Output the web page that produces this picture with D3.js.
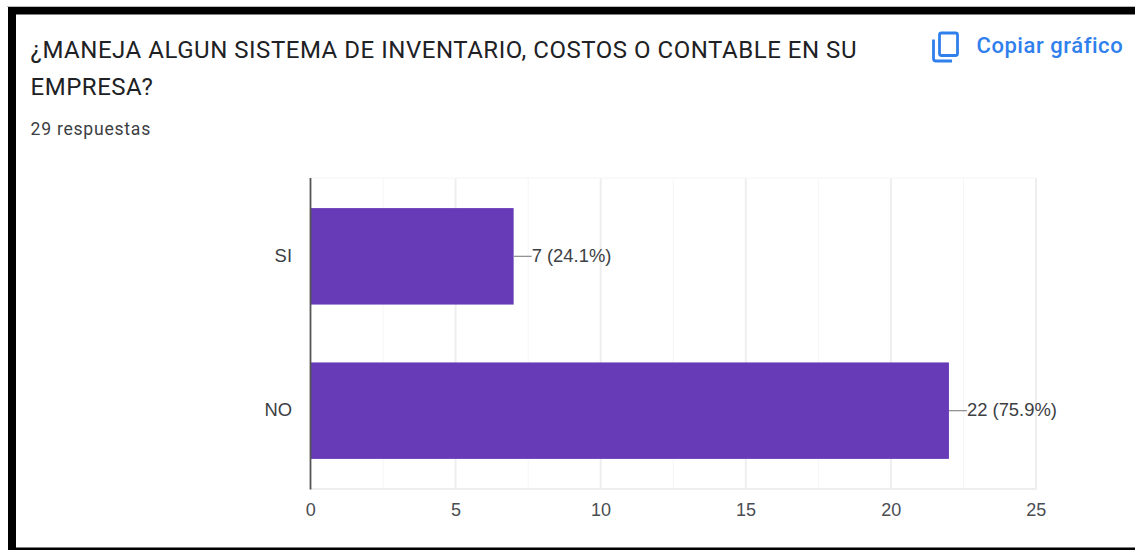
<!DOCTYPE html>
<html>
<head>
<meta charset="utf-8">
<script src="https://cdn.jsdelivr.net/npm/d3@7"></script>
<style>
html, body { margin: 0; padding: 0; background: #fff; overflow: hidden; }
text { font-family: Roboto, sans-serif; }
.axis-text { font-family: "Liberation Sans", Arial, sans-serif; }
</style>
</head>
<body>
<div id="container"></div>
<script>
var width = 1135;
var height = 550;

// data
var categories = ["SI", "NO"];
var values = [7, 22];
var valueLabels = ["7 (24.1%)", "22 (75.9%)"];
var majorTicks = [0, 5, 10, 15, 20, 25];
var minorTicks = [2.5, 7.5, 12.5, 17.5, 22.5];
var titleLines = ["¿MANEJA ALGUN SISTEMA DE INVENTARIO, COSTOS O CONTABLE EN SU", "EMPRESA?"];
var subtitle = "29 respuestas";
var copyLabel = "Copiar gráfico";

var svg = d3.select("#container").append("svg")
    .attr("width", width)
    .attr("height", height)
    .style("display", "block");

// black frame of the screenshot
svg.append("rect").attr("x", 7).attr("y", 6).attr("width", width - 7).attr("height", 1).attr("fill", "#bbb");
svg.append("rect").attr("x", 8).attr("y", 7).attr("width", width - 8).attr("height", 7.5).attr("fill", "#000");
svg.append("rect").attr("x", 8).attr("y", 7).attr("width", 8).attr("height", height - 7).attr("fill", "#000");
svg.append("rect").attr("x", 8).attr("y", 547.5).attr("width", width - 8).attr("height", 2.5).attr("fill", "#000");

// heading
svg.selectAll(".title")
    .data(titleLines)
    .enter().append("text")
    .attr("class", "title")
    .attr("x", 30.5)
    .attr("y", function(d, i) { return 57.5 + i * 37.5; })
    .attr("font-size", 24)
    .attr("letter-spacing", 0.53)
    .attr("fill", "#202124")
    .text(function(d) { return d; });

svg.append("text")
    .attr("x", 30.5)
    .attr("y", 134.5)
    .attr("font-size", 17.6)
    .attr("letter-spacing", 0.75)
    .attr("fill", "#3c4043")
    .text(subtitle);

// copy button
var blue = "#2f80ed";
var icon = svg.append("g").attr("fill", "none").attr("stroke", blue).attr("stroke-width", 2.8);
icon.append("rect").attr("x", 939.5).attr("y", 33).attr("width", 18).attr("height", 22.5).attr("rx", 2);
icon.append("path").attr("d", "M933.5,39.5V58.5Q933.5,61 936,61H952");

svg.append("text")
    .attr("x", 976.5)
    .attr("y", 53)
    .attr("font-size", 22)
    .attr("letter-spacing", 0.55)
    .attr("font-weight", 500)
    .attr("fill", blue)
    .text(copyLabel);

// scales
var x = d3.scaleLinear().domain([0, 25]).range([310.5, 1036]);
var y = d3.scaleBand().domain(categories).range([178, 489]).paddingInner(0.375).paddingOuter(0.195);

// grid
svg.append("g").selectAll("line")
    .data(minorTicks)
    .enter().append("line")
    .attr("x1", function(d) { return x(d); })
    .attr("x2", function(d) { return x(d); })
    .attr("y1", 178).attr("y2", 489)
    .attr("stroke", "#f5f5f5").attr("stroke-width", 1);

svg.append("g").selectAll("line")
    .data(majorTicks.slice(1))
    .enter().append("line")
    .attr("x1", function(d) { return x(d); })
    .attr("x2", function(d) { return x(d); })
    .attr("y1", 178).attr("y2", 489)
    .attr("stroke", "#eeeeee").attr("stroke-width", 2);

svg.append("line")
    .attr("x1", x(0)).attr("x2", x(25)).attr("y1", 178).attr("y2", 178)
    .attr("stroke", "#f5f5f5").attr("stroke-width", 1);
svg.append("line")
    .attr("x1", x(0)).attr("x2", x(25) + 1).attr("y1", 489).attr("y2", 489)
    .attr("stroke", "#eeeeee").attr("stroke-width", 2);

// bars
svg.append("g").selectAll("rect")
    .data(categories)
    .enter().append("rect")
    .attr("x", x(0))
    .attr("y", function(d) { return y(d); })
    .attr("width", function(d, i) { return x(values[i]) - x(0); })
    .attr("height", y.bandwidth())
    .attr("fill", "#673ab7");

// leader lines and value labels
svg.append("g").selectAll("line")
    .data(categories)
    .enter().append("line")
    .attr("x1", function(d, i) { return x(values[i]); })
    .attr("x2", function(d, i) { return x(values[i]) + 18; })
    .attr("y1", function(d) { return y(d) + y.bandwidth() / 2; })
    .attr("y2", function(d) { return y(d) + y.bandwidth() / 2; })
    .attr("stroke", "#8a8a8a").attr("stroke-width", 1.2);

svg.append("g").selectAll("text")
    .data(categories)
    .enter().append("text")
    .attr("class", "axis-text")
    .attr("x", function(d, i) { return x(values[i]) + 18; })
    .attr("y", function(d) { return y(d) + y.bandwidth() / 2 + 5.8; })
    .attr("font-size", 18.4)
    .attr("fill", "#3c4043")
    .text(function(d, i) { return valueLabels[i]; });

// category labels
svg.append("g").selectAll("text")
    .data(categories)
    .enter().append("text")
    .attr("class", "axis-text")
    .attr("x", 292)
    .attr("y", function(d) { return y(d) + y.bandwidth() / 2 + 5.8; })
    .attr("text-anchor", "end")
    .attr("font-size", 18.4)
    .attr("fill", "#3c4043")
    .text(function(d) { return d; });

// value axis labels
svg.append("g").selectAll("text")
    .data(majorTicks)
    .enter().append("text")
    .attr("class", "axis-text")
    .attr("x", function(d) { return x(d) + 0.3; })
    .attr("y", 516)
    .attr("text-anchor", "middle")
    .attr("font-size", 18)
    .attr("fill", "#4a4d52")
    .text(function(d) { return d; });

// baseline
svg.append("line")
    .attr("x1", x(0)).attr("x2", x(0)).attr("y1", 178).attr("y2", 489.5)
    .attr("stroke", "#555").attr("stroke-width", 1.8);
</script>
</body>
</html>
